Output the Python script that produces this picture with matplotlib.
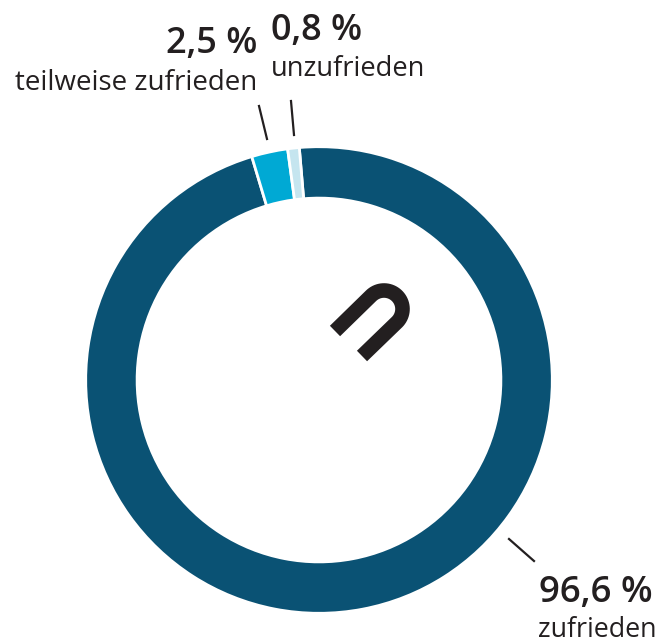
import numpy as np
import matplotlib
matplotlib.use("Agg")
import matplotlib.pyplot as plt

labels = ["zufrieden", "teilweise zufrieden", "unzufrieden"]
values = [96.6, 2.5, 0.8]
value_labels = ["96,6 %", "2,5 %", "0,8 %"]
colors = ["#0a5274", "#00a9d4", "#c5e5ef"]

plt.rcParams['font.family'] = ['Open Sans', 'DejaVu Sans']

W, H = 662, 644
fig = plt.figure(figsize=(W / 100, H / 100), dpi=100)
ax = fig.add_axes([0, 0, 1, 1])
ax.set_xlim(0, W)
ax.set_ylim(H, 0)
ax.axis("off")

# second axes for the donut, in pixels with y pointing up
ax2 = fig.add_axes([0, 0, 1, 1])
ax2.set_xlim(0, W)
ax2.set_ylim(0, H)
ax2.axis("off")
ax2.pie(values, colors=colors, startangle=94.85, counterclock=False,
        center=(319, H - 380), radius=233.3,
        wedgeprops=dict(width=51.4, edgecolor="white", linewidth=2.0))
ax2.set_xlim(0, W)
ax2.set_ylim(0, H)
ax2.set_aspect("auto")

dark = "#231f20"

# leader lines
ax.plot([259, 267], [106, 139], color=dark, lw=1.6)
ax.plot([291, 294], [101, 135], color=dark, lw=1.6)
ax.plot([509, 534], [539, 561], color=dark, lw=1.6)

# horseshoe icon in the middle
t = np.radians(np.linspace(225, 405, 40))
arc_x = 384 + 18.5 * np.cos(t)
arc_y = 309 + 18.5 * np.sin(t)
ax.plot(np.r_[335, arc_x, 362], np.r_[331, arc_y, 356], color=dark, lw=10.5,
        solid_capstyle="butt", solid_joinstyle="round")

ax.text(257, 44, value_labels[1], fontsize=26, fontweight="semibold", color=dark, ha="right", va="center")
ax.text(257, 83, labels[1], fontsize=20, color=dark, ha="right", va="center")
ax.text(271, 31, value_labels[2], fontsize=26, fontweight="semibold", color=dark, ha="left", va="center")
ax.text(271, 69, labels[2], fontsize=19.6, color=dark, ha="left", va="center")
ax.text(653, 593, value_labels[0], fontsize=26.5, fontweight="semibold", color=dark, ha="right", va="center")
ax.text(657, 630, labels[0], fontsize=19.4, color=dark, ha="right", va="center")

fig.savefig("out.png", dpi=100)
